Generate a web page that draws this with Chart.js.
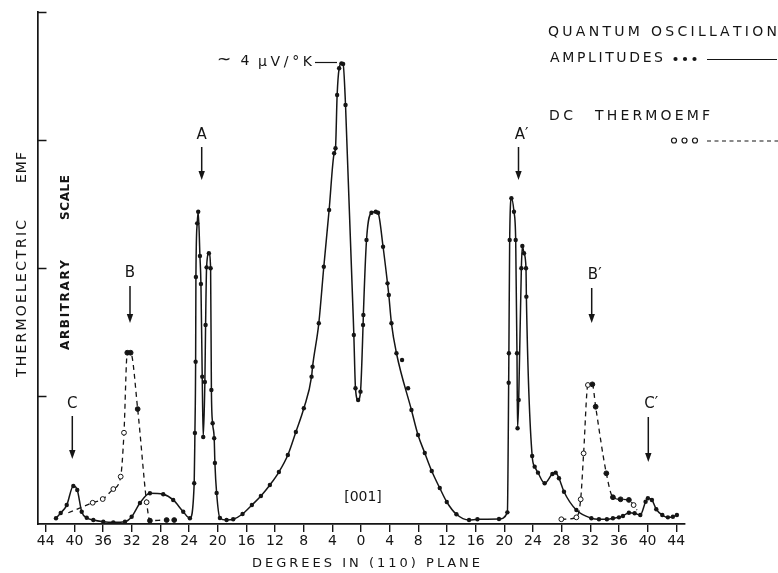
<!DOCTYPE html>
<html>
<head>
<meta charset="utf-8">
<title>Thermoelectric EMF vs angle in (110) plane</title>
<style>
  html, body { margin: 0; padding: 0; background: #fff; }
  #wrap { width: 778px; height: 573px; }
</style>
<script src="https://cdn.jsdelivr.net/npm/chart.js@4.4.1/dist/chart.umd.min.js"></script>
</head>
<body>
<div id="wrap"><canvas id="chart" width="778" height="573"></canvas></div>
<script>
// Quantum oscillation amplitudes (solid line, filled dots), degrees from [001]
const qoDeg = [
  -42.57, -41.91, -41.07, -40.15, -39.60, -38.98, -38.28, -37.36, -35.97, -34.57, -32.94, -32.01, -30.85, -29.46, -27.60, -26.21, -24.81, -23.88,
  -23.28, -23.18, -23.08, -23.04, -22.86, -22.72, -22.48, -22.34, -22.16, -22.02, -21.79, -21.69, -21.55, -21.23, -20.99, -20.88, -20.71, -20.49, -20.39, -20.15, -19.69, -18.76, -17.84,
  -16.53, -15.23, -13.97, -12.72, -11.46, -10.21, -9.09, -7.98, -6.90, -6.76, -5.89, -5.19, -4.45, -3.75, -3.56, -3.33, -3.05, -2.72, -2.50, -2.16,
  -1.00, -0.77, -0.40, -0.07, 0.29, 0.33, 0.77, 1.46, 2.06, 2.38, 3.08, 3.70, 3.88, 4.25, 4.95, 7.04, 7.96, 8.90, 9.87, 10.99, 11.97, 13.32, 15.08, 16.25, 19.26, 20.43,
  20.61, 20.64, 20.75, 20.99, 21.35, 21.59, 21.77, 21.85, 22.01, 22.38, 22.52, 22.75, 23.03, 23.08, 23.89, 24.24, 24.70, 25.63, 26.71, 27.17,
  27.63, 28.33, 30.06, 32.15, 33.21, 34.32, 35.16, 36.00, 36.56, 37.39, 38.19, 38.98, 39.72, 40.04, 40.60, 41.21, 42.05, 42.83, 43.53, 44.09
];
const qoAmp = [
  0.045, 0.086, 0.148, 0.297, 0.266, 0.096, 0.049, 0.031, 0.018, 0.013, 0.018, 0.057, 0.164, 0.240, 0.232, 0.188, 0.096, 0.045,
  0.318, 0.711, 1.268, 1.930, 2.349, 2.440, 2.094, 1.875, 1.151, 0.680, 1.109, 1.555, 2.005, 2.115, 1.998, 1.047, 0.787, 0.670, 0.477, 0.242, 0.047, 0.031, 0.037,
  0.078, 0.148, 0.219, 0.305, 0.406, 0.539, 0.719, 0.904, 1.151, 1.229, 1.568, 2.010, 2.453, 2.896, 2.935, 3.352, 3.560, 3.599, 3.594, 3.273,
  1.477, 1.060, 0.969, 1.034, 1.555, 1.633, 2.219, 2.432, 2.440, 2.432, 2.166, 1.880, 1.789, 1.568, 1.334, 0.891, 0.695, 0.555, 0.414, 0.281, 0.172, 0.076, 0.031, 0.037, 0.039, 0.091,
  1.104, 1.334, 2.219, 2.545, 2.440, 2.219, 1.334, 0.748, 0.969, 1.998, 2.172, 2.115, 1.998, 1.776, 0.531, 0.448, 0.401, 0.318, 0.391, 0.401,
  0.357, 0.252, 0.109, 0.045, 0.037, 0.037, 0.045, 0.052, 0.063, 0.088, 0.084, 0.070, 0.174, 0.201, 0.188, 0.115, 0.070, 0.052, 0.057, 0.070
];
// two loose points off the curve right of the centre
const qoStrayDeg = [5.73, 6.57];
const qoStrayAmp = [1.281, 1.060];

// DC thermoemf (dashed line); mark: o = open circle, • = filled dot, '' = none
const dcLeftDeg  = [-40.85, -37.45, -36.05, -34.57, -33.54, -33.08, -32.62, -32.15, -31.17, -29.92, -29.46, -27.13, -26.07];
const dcLeftEmf  = [0.088, 0.166, 0.195, 0.273, 0.370, 0.713, 1.338, 1.338, 0.898, 0.170, 0.026, 0.031, 0.031];
const dcLeftMark = ['', 'o', 'o', 'o', 'o', 'o', '•', '•', '•', 'o', '•', '•', '•'];
const dcRightDeg  = [27.96, 30.06, 30.66, 31.07, 31.67, 32.29, 32.75, 34.24, 35.16, 36.23, 37.39, 38.05, 38.51];
const dcRightEmf  = [0.037, 0.052, 0.193, 0.552, 1.086, 1.091, 0.916, 0.396, 0.209, 0.193, 0.188, 0.148, 0.109];
const dcRightMark = ['o', 'o', 'o', 'o', 'o', '•', '•', '•', '•', '•', '•', 'o', ''];

const xTicks = [-44, -40, -36, -32, -28, -24, -20, -16, -12, -8, -4, 0, 4, 8, 12, 16, 20, 24, 28, 32, 36, 40, 44];
const yTicks = [1, 2, 3, 4];

const INK = '#151515';
const FONT = '"DejaVu Sans", "Liberation Sans", sans-serif';

function pts(xs, ys) {
  return xs.map((x, i) => ({ x: x, y: ys[i] }));
}

// draw text char by char, stretched between x0 and x1
function spaced(ctx, str, x0, x1, cy) {
  const chars = [...str];
  const w = chars.reduce((s, c) => s + ctx.measureText(c).width, 0);
  const gap = chars.length > 1 ? (x1 - x0 - w) / (chars.length - 1) : 0;
  let x = x0;
  ctx.textAlign = 'left';
  ctx.textBaseline = 'middle';
  chars.forEach(c => {
    ctx.fillText(c, x, cy);
    x += ctx.measureText(c).width + gap;
  });
}

// vertical text reading upwards, spanning screen y from yBottom to yTop
function spacedUp(ctx, str, cx, yBottom, yTop) {
  ctx.save();
  ctx.translate(cx, 0);
  ctx.rotate(-Math.PI / 2);
  spaced(ctx, str, -yBottom, -yTop, 0);
  ctx.restore();
}

function arrowDown(ctx, x, y0, y1) {
  ctx.beginPath();
  ctx.moveTo(x, y0);
  ctx.lineTo(x, y1 - 6);
  ctx.stroke();
  ctx.beginPath();
  ctx.moveTo(x - 3.2, y1 - 9);
  ctx.lineTo(x + 3.2, y1 - 9);
  ctx.lineTo(x, y1);
  ctx.closePath();
  ctx.fill();
}

function centred(ctx, str, x, y) {
  ctx.textAlign = 'center';
  ctx.textBaseline = 'middle';
  ctx.fillText(str, x, y);
}

const annotations = {
  id: 'annotations',
  afterDraw(chart) {
    const ctx = chart.ctx;
    const area = chart.chartArea;
    const ys = chart.scales.y;
    ctx.save();
    ctx.fillStyle = INK;
    ctx.strokeStyle = INK;

    // y axis ticks point inwards
    ctx.lineWidth = 1.5;
    yTicks.forEach(v => {
      const py = Math.round(ys.getPixelForValue(v)) + 0.5;
      ctx.beginPath();
      ctx.moveTo(area.left, py);
      ctx.lineTo(area.left + 9, py);
      ctx.stroke();
    });

    // axis titles
    ctx.font = '14px ' + FONT;
    spacedUp(ctx, 'THERMOELECTRIC', 22, 377, 220);
    spacedUp(ctx, 'EMF', 22, 183, 152);
    ctx.font = 'bold 12px ' + FONT;
    spacedUp(ctx, 'ARBITRARY', 66, 350, 260);
    spacedUp(ctx, 'SCALE', 66, 220, 175);
    ctx.font = '13px ' + FONT;
    spaced(ctx, 'DEGREES IN (110) PLANE', 252, 480, 564);

    // legend
    ctx.font = '14px ' + FONT;
    spaced(ctx, 'QUANTUM OSCILLATION', 548, 777, 32);
    spaced(ctx, 'AMPLITUDES', 550, 663, 58);
    spaced(ctx, 'DC', 549, 573, 116);
    spaced(ctx, 'THERMOEMF', 595, 710, 116);
    [675.5, 685, 694.5].forEach(x => {
      ctx.beginPath();
      ctx.arc(x, 59, 2.1, 0, Math.PI * 2);
      ctx.fill();
    });
    ctx.lineWidth = 1.2;
    ctx.beginPath();
    ctx.moveTo(707, 59.5);
    ctx.lineTo(777, 59.5);
    ctx.stroke();
    [674, 684.5, 695].forEach(x => {
      ctx.beginPath();
      ctx.arc(x, 140.5, 2.5, 0, Math.PI * 2);
      ctx.stroke();
    });
    ctx.setLineDash([4, 3.5]);
    ctx.beginPath();
    ctx.moveTo(707, 141);
    ctx.lineTo(778, 141);
    ctx.stroke();
    ctx.setLineDash([]);

    // peak value
    ctx.font = '17px ' + FONT;
    centred(ctx, '~', 224, 61);
    ctx.font = '14px ' + FONT;
    centred(ctx, '4', 245, 61);
    spaced(ctx, 'µV/°K', 258, 312, 62);
    ctx.lineWidth = 1.2;
    ctx.beginPath();
    ctx.moveTo(315, 62.5);
    ctx.lineTo(337, 62.5);
    ctx.stroke();

    // feature labels and arrows
    ctx.font = '15px ' + FONT;
    const marks = [
      ['A', 201.7, 135, 147, 180],
      ['B', 130, 273, 286, 323],
      ['C', 72.3, 404, 416, 459],
      ['A′', 518.5, 135, 147, 180],
      ['B′', 591.7, 275, 288, 323],
      ['C′', 648.3, 404, 417, 462]
    ];
    ctx.lineWidth = 1.5;
    marks.forEach(m => {
      centred(ctx, m[0], m[1] + (m[0].length > 1 ? 3 : 0), m[2]);
      arrowDown(ctx, m[1], m[3], m[4]);
    });
    ctx.font = '14px ' + FONT;
    centred(ctx, '[001]', 363, 497);

    ctx.restore();
  }
};

const dcStyle = marks => ({
  borderColor: INK,
  borderWidth: 1.3,
  borderDash: [5, 4],
  pointRadius: marks.map(m => (m ? 2.4 : 0)),
  pointBackgroundColor: marks.map(m => (m === 'o' ? '#fff' : INK)),
  pointBorderColor: INK,
  pointBorderWidth: 1,
  cubicInterpolationMode: 'monotone',
  fill: false
});

new Chart(document.getElementById('chart'), {
  type: 'line',
  data: {
    datasets: [
      {
        label: 'Quantum oscillation amplitudes',
        data: pts(qoDeg, qoAmp),
        borderColor: INK,
        borderWidth: 1.5,
        pointRadius: 2.2,
        pointBackgroundColor: INK,
        pointBorderWidth: 0,
        cubicInterpolationMode: 'monotone',
        fill: false
      },
      {
        label: 'Quantum oscillation amplitudes (loose)',
        data: pts(qoStrayDeg, qoStrayAmp),
        showLine: false,
        pointRadius: 2.2,
        pointBackgroundColor: INK,
        pointBorderWidth: 0
      },
      Object.assign({ label: 'DC thermoemf', data: pts(dcLeftDeg, dcLeftEmf) }, dcStyle(dcLeftMark)),
      Object.assign({ label: 'DC thermoemf ', data: pts(dcRightDeg, dcRightEmf) }, dcStyle(dcRightMark))
    ]
  },
  options: {
    responsive: false,
    animation: false,
    devicePixelRatio: 1,
    layout: { padding: { left: 37.5, right: 93.5, top: 12, bottom: 0 } },
    plugins: { legend: { display: false }, tooltip: { enabled: false } },
    scales: {
      x: {
        type: 'linear',
        min: -45.15,
        max: 45.15,
        afterBuildTicks: s => { s.ticks = xTicks.map(v => ({ value: v })); },
        afterFit: s => { s.height = 49; },
        grid: { drawOnChartArea: false, drawTicks: true, tickLength: 8, color: INK, lineWidth: 1.4 },
        border: { display: true, color: INK, width: 1.7 },
        ticks: {
          color: INK,
          font: { family: FONT, size: 14 },
          padding: 1,
          maxRotation: 0,
          autoSkip: false,
          callback: v => String(Math.abs(v))
        }
      },
      y: {
        min: 0,
        max: 4,
        afterFit: s => { s.width = 0; },
        ticks: { display: false },
        grid: { display: false },
        border: { display: true, color: INK, width: 1.7 }
      }
    }
  },
  plugins: [annotations]
});
</script>
</body>
</html>
